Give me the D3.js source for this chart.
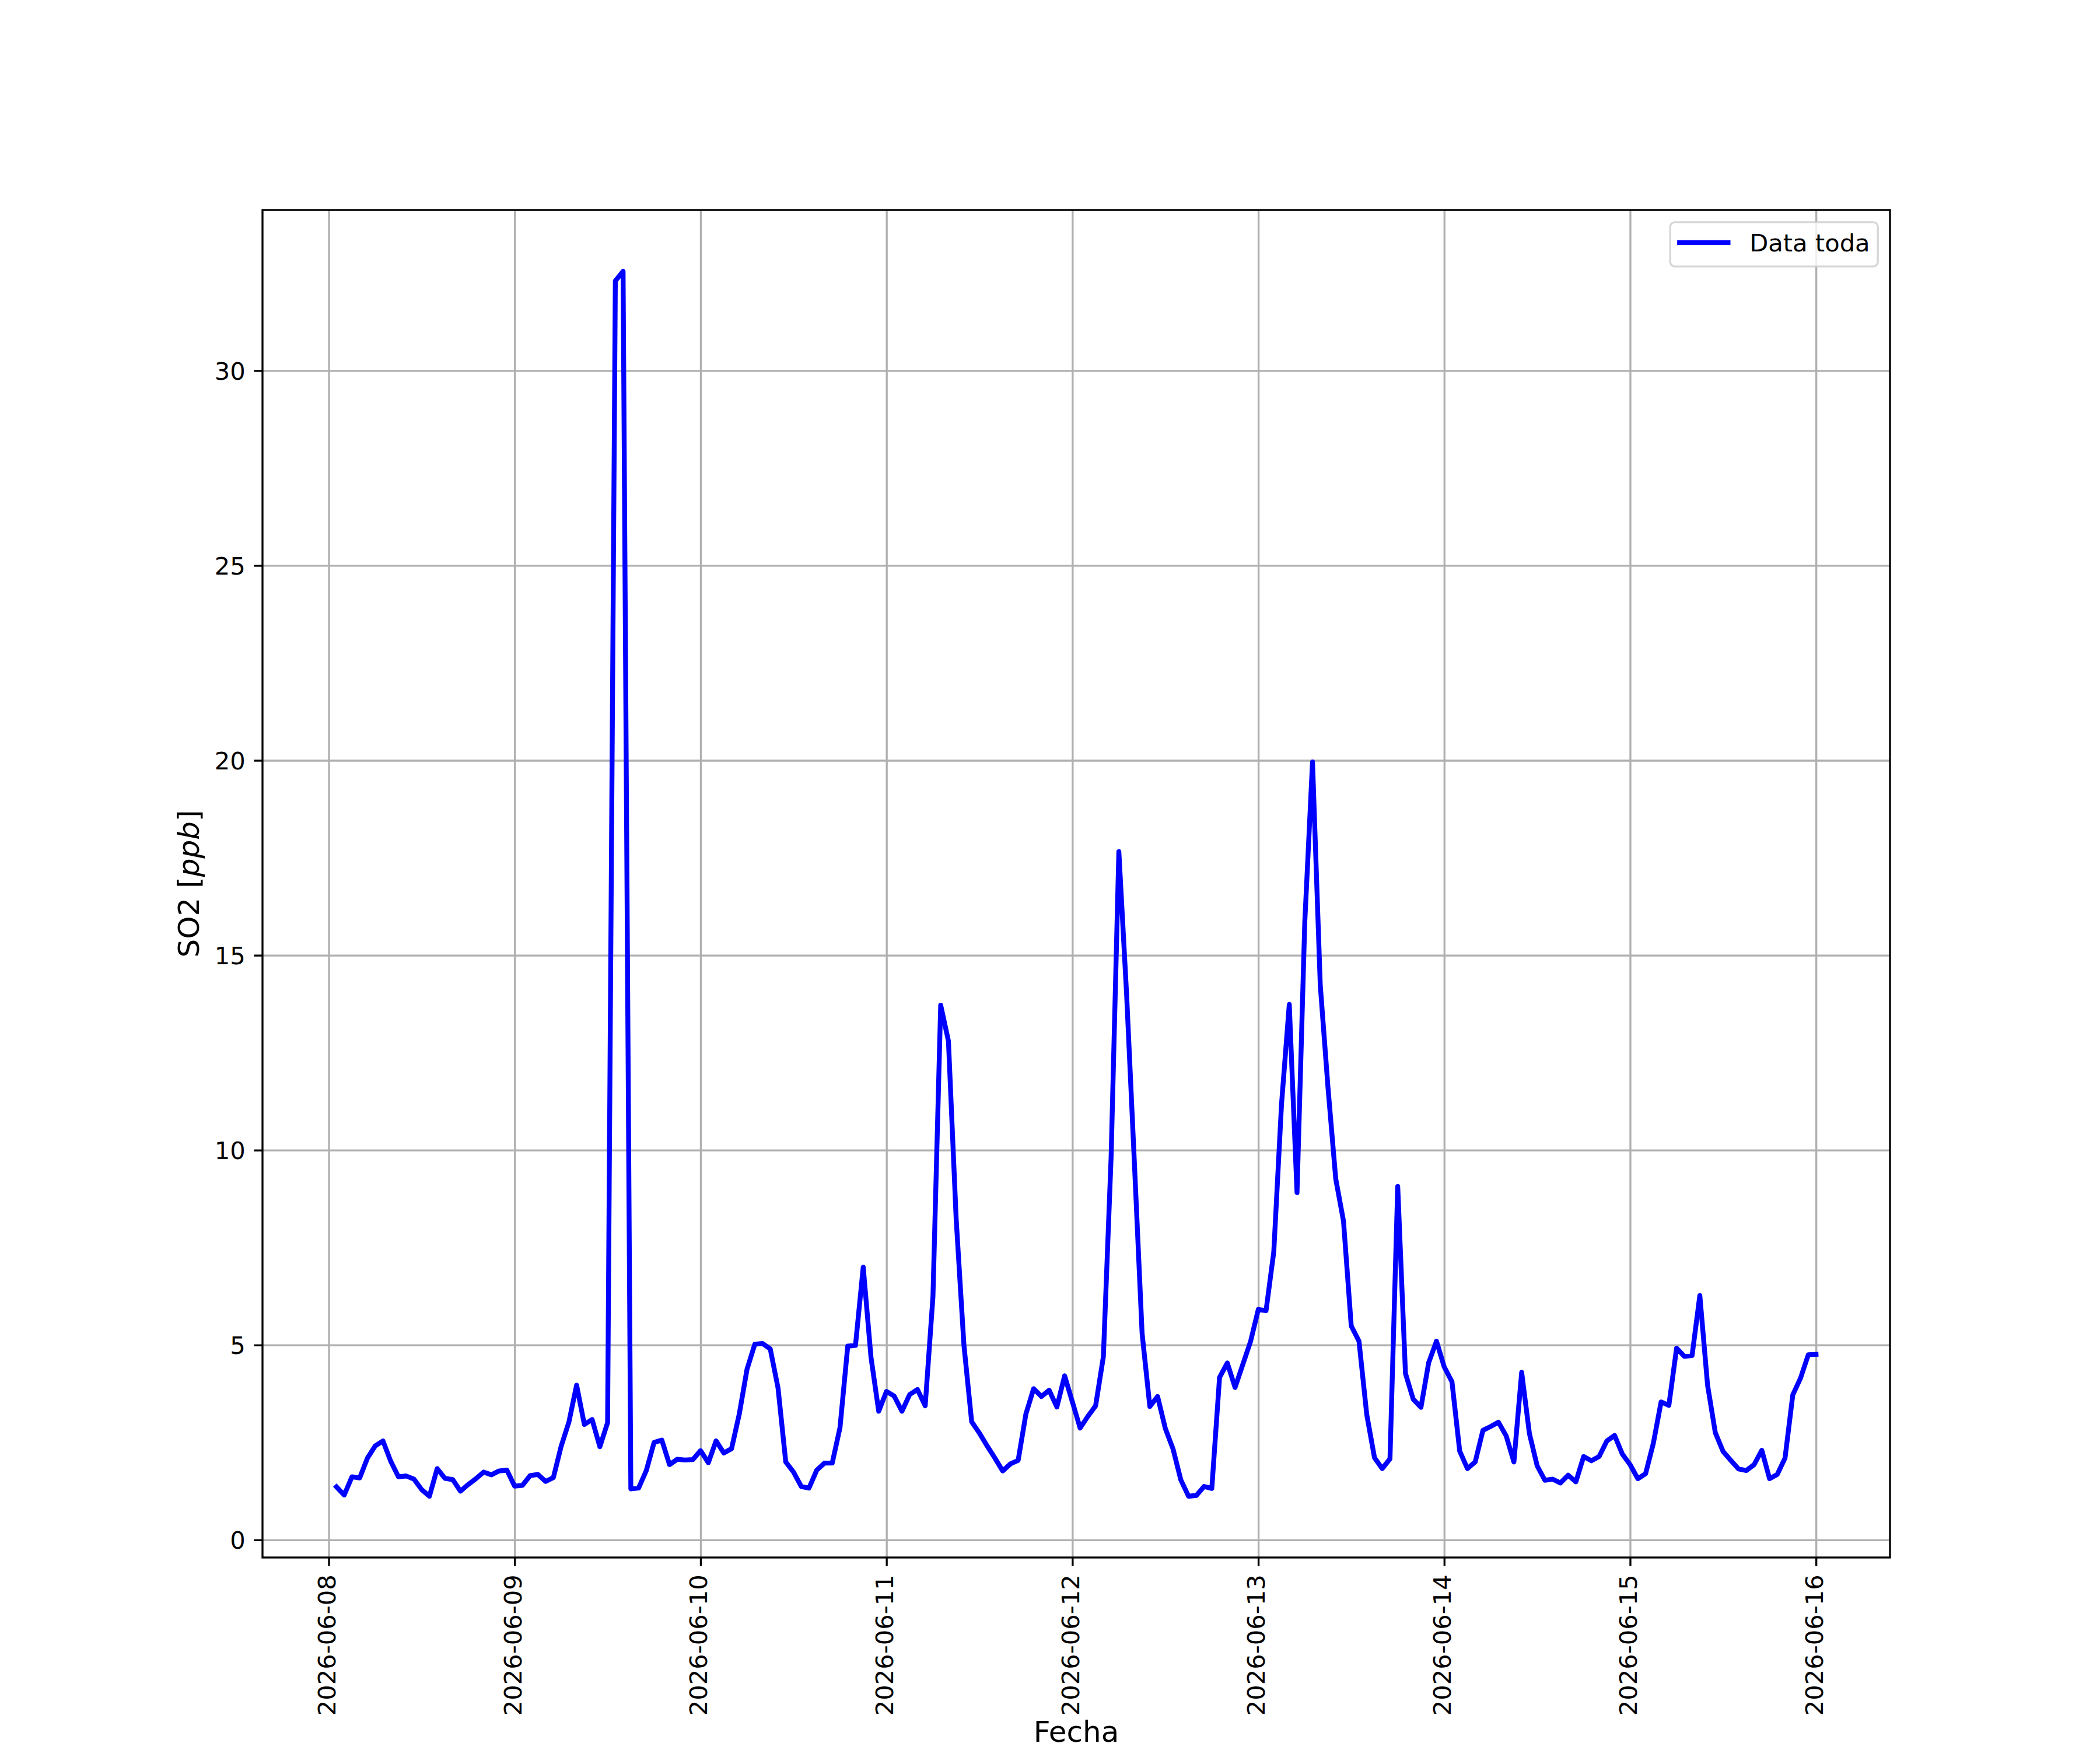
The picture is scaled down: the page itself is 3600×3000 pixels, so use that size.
<!DOCTYPE html>
<html lang="es">
<head>
<meta charset="UTF-8">
<title>SO2 - Data toda</title>
<script src="https://d3js.org/d3.v7.min.js"></script>
<style>
  body { margin: 0; background: #fff; }
  svg { display: block; font-family: "DejaVu Sans", sans-serif; }
</style>
</head>
<body>
<svg width="3600" height="3000"></svg>
<script>
// hourly SO2 [ppb], one array per day (the first day starts at 01:00)
const so2_0608 = [1.36, 1.15, 1.62, 1.59, 2.10, 2.41, 2.54, 2.02, 1.62, 1.64, 1.56, 1.29,
                  1.12, 1.83, 1.58, 1.55, 1.25, 1.42, 1.57, 1.74, 1.67, 1.77, 1.79];
const so2_0609 = [1.38, 1.40, 1.65, 1.68, 1.50, 1.60, 2.40, 3.02, 3.97, 2.96, 3.09, 2.39,
                  3.01, 32.30, 32.55, 1.31, 1.33, 1.78, 2.50, 2.56, 1.93, 2.07, 2.05, 2.06];
const so2_0610 = [2.29, 1.98, 2.54, 2.23, 2.34, 3.23, 4.38, 5.02, 5.04, 4.90, 3.90, 2.00,
                  1.74, 1.37, 1.33, 1.79, 1.97, 1.97, 2.88, 4.97, 4.99, 7.00, 4.69, 3.30];
const so2_0611 = [3.81, 3.69, 3.30, 3.73, 3.86, 3.44, 6.24, 13.72, 12.80, 8.23, 5.00, 3.03,
                  2.74, 2.41, 2.10, 1.77, 1.95, 2.04, 3.23, 3.88, 3.68, 3.84, 3.41, 4.21];
const so2_0612 = [3.54, 2.87, 3.17, 3.44, 4.70, 9.82, 17.66, 14.00, 9.70, 5.30, 3.42, 3.68,
                  2.86, 2.33, 1.54, 1.12, 1.14, 1.37, 1.32, 4.17, 4.54, 3.91, 4.50, 5.09];
const so2_0613 = [5.91, 5.88, 7.39, 11.18, 13.74, 8.91, 15.84, 19.96, 14.24, 11.60, 9.26, 8.18,
                  5.49, 5.10, 3.22, 2.11, 1.83, 2.08, 9.07, 4.27, 3.61, 3.40, 4.55, 5.10];
const so2_0614 = [4.44, 4.06, 2.28, 1.83, 2.00, 2.81, 2.91, 3.02, 2.67, 2.00, 4.30, 2.73,
                  1.90, 1.53, 1.56, 1.46, 1.66, 1.49, 2.14, 2.03, 2.14, 2.54, 2.68, 2.20];
const so2_0615 = [1.93, 1.57, 1.70, 2.48, 3.54, 3.45, 4.92, 4.71, 4.73, 6.27, 3.97, 2.75,
                  2.27, 2.04, 1.82, 1.78, 1.93, 2.30, 1.57, 1.68, 2.10, 3.72, 4.15, 4.75];
const so2_0616 = [4.76];

const firstHour = Date.UTC(2026, 5, 8, 1);
const yTicks = [0, 5, 10, 15, 20, 25, 30];
const seriesName = "Data toda";
const xTitle = "Fecha";

const values = [so2_0608, so2_0609, so2_0610, so2_0611, so2_0612,
                so2_0613, so2_0614, so2_0615, so2_0616].flat();
const data = values.map((v, i) => ({t: new Date(firstHour + i * 3600e3), v: v}));

// figure geometry (matplotlib-like, 300 dpi)
const pt = 300 / 72;
const svg = d3.select("svg");
const axL = 450, axR = 3240, axT = 360, axB = 2670;
const fs = 10 * pt, fsLabel = 12 * pt;
const tickLen = 3.5 * pt, tickPad = 3.5 * pt;
const lineW = 2 * pt;

// 5% margins like matplotlib autoscale
const tExt = d3.extent(data, d => +d.t);
const tPad = (tExt[1] - tExt[0]) * 0.05;
const vExt = d3.extent(data, d => d.v);
const vPad = (vExt[1] - vExt[0]) * 0.05;

const x = d3.scaleUtc()
            .domain([new Date(tExt[0] - tPad), new Date(tExt[1] + tPad)])
            .range([axL, axR]);
const y = d3.scaleLinear()
            .domain([vExt[0] - vPad, vExt[1] + vPad])
            .range([axB, axT]);

const xTicks = d3.utcDay.range(d3.utcDay.ceil(x.domain()[0]), x.domain()[1]);

// grid
svg.append("g")
   .attr("transform", `translate(0,${axB})`)
   .call(d3.axisBottom(x).tickValues(xTicks).tickSize(-(axB - axT)).tickFormat(""))
   .call(g => g.select(".domain").remove())
   .selectAll("line").attr("stroke", "#b0b0b0").attr("stroke-width", 0.8 * pt);
svg.append("g")
   .attr("transform", `translate(${axL},0)`)
   .call(d3.axisLeft(y).tickValues(yTicks).tickSize(-(axR - axL)).tickFormat(""))
   .call(g => g.select(".domain").remove())
   .selectAll("line").attr("stroke", "#b0b0b0").attr("stroke-width", 0.8 * pt);

// data line
const line = d3.line().x(d => x(d.t)).y(d => y(d.v));
svg.append("path")
   .datum(data)
   .attr("d", line)
   .attr("fill", "none")
   .attr("stroke", "#0000ff")
   .attr("stroke-width", lineW)
   .attr("stroke-linejoin", "round")
   .attr("stroke-linecap", "square");

// axes
const xAxis = svg.append("g")
   .attr("transform", `translate(0,${axB})`)
   .call(d3.axisBottom(x).tickValues(xTicks).tickSize(tickLen).tickSizeOuter(0)
           .tickFormat(d3.utcFormat("%Y-%m-%d")));
xAxis.select(".domain").remove();
xAxis.selectAll("line").attr("stroke", "#000").attr("stroke-width", 0.8 * pt);
xAxis.selectAll("text")
     .attr("font-size", fs)
     .attr("fill", "#000")
     .attr("transform", "rotate(-90)")
     .attr("text-anchor", "end")
     .attr("x", -(tickLen + tickPad))
     .attr("y", 0)
     .attr("dy", "0.26em");
xAxis.attr("font-family", null).attr("font-size", null);

const yAxis = svg.append("g")
   .attr("transform", `translate(${axL},0)`)
   .call(d3.axisLeft(y).tickValues(yTicks).tickSize(tickLen).tickPadding(tickPad).tickSizeOuter(0));
yAxis.select(".domain").remove();
yAxis.selectAll("line").attr("stroke", "#000").attr("stroke-width", 0.8 * pt);
yAxis.selectAll("text")
     .attr("font-size", fs)
     .attr("fill", "#000")
     .attr("dy", "0.36em");
yAxis.attr("font-family", null).attr("font-size", null);

// spines
svg.append("rect")
   .attr("x", axL).attr("y", axT)
   .attr("width", axR - axL).attr("height", axB - axT)
   .attr("fill", "none")
   .attr("stroke", "#000")
   .attr("stroke-width", 0.8 * pt);

// axis labels
svg.append("text")
   .attr("x", (axL + axR) / 2)
   .attr("y", 2986)
   .attr("text-anchor", "middle")
   .attr("font-size", fsLabel)
   .text(xTitle);

const yLab = svg.append("text")
   .attr("transform", `translate(341,${(axT + axB) / 2}) rotate(-90)`)
   .attr("text-anchor", "middle")
   .attr("font-size", fsLabel);
yLab.append("tspan").text("SO2 [");
yLab.append("tspan").attr("font-style", "italic").text("ppb");
yLab.append("tspan").text("]");

// legend, upper right
const pad = 0.5 * fs;
const lw = 356, lh = 76;
const lx = axR - pad - lw, ly = axT + pad;
const legend = svg.append("g");
legend.append("rect")
      .attr("x", lx).attr("y", ly)
      .attr("width", lw).attr("height", lh)
      .attr("rx", 8).attr("ry", 8)
      .attr("fill", "#fff").attr("fill-opacity", 0.8)
      .attr("stroke", "#cccccc").attr("stroke-opacity", 0.8)
      .attr("stroke-width", 0.8 * pt);
legend.append("line")
      .attr("x1", lx + 12).attr("x2", lx + 12 + 2 * fs + 8)
      .attr("y1", ly + 35).attr("y2", ly + 35)
      .attr("stroke", "#0000ff")
      .attr("stroke-width", lineW)
      .attr("stroke-linecap", "butt");
legend.append("text")
      .attr("x", lx + 136)
      .attr("y", ly + 50)
      .attr("font-size", fs)
      .text(seriesName);
</script>
</body>
</html>
